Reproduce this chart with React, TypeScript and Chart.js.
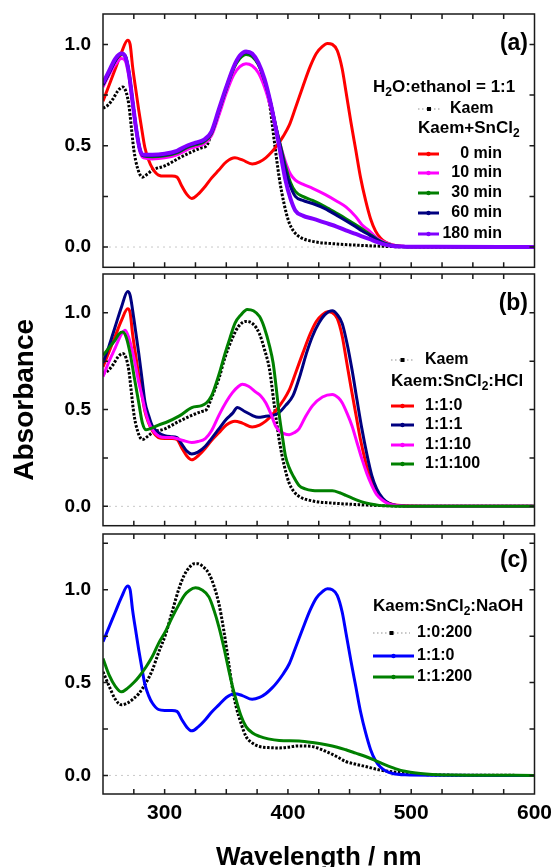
import React, { useEffect, useRef } from 'react';
import { Chart, registerables } from 'chart.js';
Chart.register(...registerables);

type P = [number, number];
const FONT = '"Liberation Sans", Arial, Helvetica, sans-serif';

// ---------- data: [wavelength nm, absorbance] ----------
const kaem: P[] = [
  [250, 0.685], [254, 0.70], [258, 0.73], [262, 0.77], [266, 0.79], [269, 0.76], [271, 0.70], [273, 0.59],
  [275, 0.48], [278, 0.39], [282, 0.345], [286, 0.36], [290, 0.38], [300, 0.40], [312, 0.44], [322, 0.47],
  [330, 0.49], [334, 0.50], [338, 0.56], [344, 0.66], [349, 0.77], [355, 0.87], [360, 0.93], [366, 0.955],
  [372, 0.94], [377, 0.89], [381, 0.81], [385, 0.71], [389, 0.52], [393, 0.34], [397, 0.21], [401, 0.12],
  [405, 0.075], [410, 0.048], [420, 0.028], [440, 0.015], [460, 0.008], [480, 0.003], [500, 0.001], [600, 0],
];
// Kaem+SnCl2 0 min  (= 1:1:0)
const sn0: P[] = [
  [250, 0.72], [255, 0.80], [260, 0.88], [265, 0.96], [270, 1.02], [272, 1.0], [274, 0.89], [277, 0.76],
  [279, 0.675], [282, 0.56], [284, 0.49], [287, 0.43], [290, 0.39], [295, 0.355], [300, 0.35], [306, 0.35],
  [310, 0.345], [314, 0.30], [318, 0.26], [322, 0.24], [327, 0.26], [333, 0.30], [338, 0.34], [344, 0.38],
  [350, 0.42], [357, 0.44], [363, 0.43], [371, 0.41], [377, 0.42], [382, 0.44], [387, 0.47], [391, 0.50],
  [396, 0.545], [401, 0.60], [406, 0.685], [412, 0.79], [418, 0.89], [423, 0.955], [428, 0.99], [432, 1.005],
  [436, 1.0], [440, 0.97], [444, 0.88], [447, 0.77], [451, 0.62], [455, 0.48], [459, 0.34], [463, 0.23],
  [467, 0.14], [471, 0.08], [475, 0.045], [479, 0.025], [485, 0.01], [495, 0.003], [520, 0.001], [600, 0],
];
const sn10: P[] = [
  [250, 0.79], [255, 0.85], [260, 0.90], [265, 0.93], [268, 0.92], [271, 0.84], [274, 0.70], [277, 0.57],
  [280, 0.47], [283, 0.44], [290, 0.435], [300, 0.44], [310, 0.455], [318, 0.48], [325, 0.495], [332, 0.51],
  [338, 0.55], [344, 0.65], [350, 0.76], [356, 0.85], [361, 0.89], [366, 0.905], [371, 0.895], [376, 0.86],
  [381, 0.79], [386, 0.69], [390, 0.59], [394, 0.50], [398, 0.42], [402, 0.36], [406, 0.33], [412, 0.31],
  [420, 0.29], [430, 0.26], [440, 0.225], [447, 0.198], [455, 0.15], [460, 0.11], [466, 0.08], [472, 0.045],
  [478, 0.025], [485, 0.01], [495, 0.003], [520, 0.001], [600, 0],
];
const sn30: P[] = [
  [250, 0.80], [255, 0.86], [260, 0.92], [265, 0.95], [268, 0.94], [271, 0.86], [274, 0.72], [277, 0.58],
  [280, 0.48], [283, 0.45], [290, 0.445], [300, 0.45], [310, 0.465], [318, 0.49], [325, 0.505], [332, 0.52],
  [338, 0.56], [344, 0.67], [350, 0.78], [356, 0.88], [361, 0.93], [366, 0.95], [371, 0.94], [376, 0.90],
  [381, 0.82], [386, 0.71], [390, 0.60], [394, 0.50], [398, 0.40], [402, 0.32], [406, 0.275], [412, 0.25],
  [420, 0.23], [430, 0.20], [440, 0.165], [447, 0.14], [455, 0.11], [460, 0.09], [466, 0.065], [472, 0.04],
  [478, 0.02], [485, 0.008], [495, 0.002], [520, 0.001], [600, 0],
];
const sn60: P[] = [
  [250, 0.80], [255, 0.86], [260, 0.92], [265, 0.955], [268, 0.945], [271, 0.865], [274, 0.72], [277, 0.58],
  [280, 0.48], [283, 0.45], [290, 0.45], [300, 0.455], [310, 0.47], [318, 0.495], [325, 0.51], [332, 0.525],
  [338, 0.565], [344, 0.675], [350, 0.785], [356, 0.885], [361, 0.94], [366, 0.96], [371, 0.95], [376, 0.905],
  [381, 0.825], [386, 0.71], [390, 0.60], [394, 0.49], [398, 0.38], [402, 0.30], [406, 0.25], [412, 0.23],
  [420, 0.215], [430, 0.19], [440, 0.155], [447, 0.13], [455, 0.10], [460, 0.08], [466, 0.06], [472, 0.037],
  [478, 0.018], [485, 0.007], [495, 0.002], [520, 0.001], [600, 0],
];
const sn180: P[] = [
  [250, 0.81], [255, 0.87], [260, 0.93], [265, 0.955], [268, 0.94], [271, 0.86], [274, 0.72], [277, 0.58],
  [280, 0.48], [283, 0.455], [290, 0.455], [300, 0.46], [310, 0.475], [318, 0.50], [325, 0.515], [332, 0.53],
  [338, 0.57], [344, 0.68], [350, 0.79], [356, 0.89], [361, 0.945], [366, 0.965], [371, 0.955], [376, 0.91],
  [381, 0.83], [386, 0.71], [390, 0.59], [394, 0.46], [398, 0.33], [402, 0.24], [406, 0.18], [412, 0.155],
  [420, 0.14], [430, 0.12], [440, 0.10], [447, 0.082], [455, 0.065], [460, 0.053], [466, 0.04], [472, 0.025],
  [478, 0.013], [485, 0.005], [495, 0.002], [520, 0.001], [600, 0],
];
// Kaem:SnCl2:HCl
const hcl1: P[] = [
  [250, 0.74], [255, 0.83], [260, 0.93], [265, 1.03], [270, 1.11], [272, 1.09], [275, 0.97], [279, 0.79],
  [282, 0.64], [284, 0.54], [287, 0.47], [290, 0.415], [295, 0.38], [300, 0.365], [305, 0.36], [310, 0.355],
  [314, 0.32], [318, 0.285], [322, 0.27], [327, 0.28], [333, 0.31], [338, 0.35], [344, 0.40], [350, 0.45],
  [355, 0.48], [359, 0.51], [365, 0.49], [371, 0.47], [376, 0.46], [382, 0.465], [388, 0.47], [393, 0.485],
  [398, 0.52], [404, 0.57], [410, 0.68], [415, 0.79], [420, 0.88], [425, 0.945], [430, 0.99], [436, 1.01],
  [440, 0.99], [444, 0.945], [448, 0.84], [452, 0.705], [456, 0.55], [460, 0.40], [464, 0.27], [468, 0.16],
  [472, 0.09], [477, 0.04], [482, 0.015], [488, 0.005], [500, 0.001], [600, 0],
];
const hcl10: P[] = [
  [250, 0.67], [255, 0.75], [260, 0.82], [265, 0.89], [268, 0.91], [271, 0.87], [275, 0.77], [279, 0.64],
  [282, 0.56], [284, 0.50], [288, 0.42], [292, 0.38], [296, 0.36], [301, 0.355], [306, 0.355], [310, 0.35],
  [315, 0.34], [322, 0.33], [327, 0.335], [333, 0.35], [338, 0.39], [344, 0.47], [350, 0.54], [355, 0.587],
  [360, 0.62], [363, 0.63], [368, 0.62], [374, 0.59], [378, 0.57], [382, 0.535], [386, 0.48], [390, 0.415],
  [393, 0.39], [397, 0.375], [401, 0.37], [405, 0.38], [409, 0.40], [414, 0.46], [420, 0.52], [428, 0.565],
  [436, 0.578], [441, 0.56], [444, 0.535], [448, 0.48], [452, 0.415], [456, 0.33], [460, 0.245], [464, 0.17],
  [468, 0.108], [472, 0.06], [477, 0.03], [482, 0.012], [488, 0.005], [500, 0.001], [600, 0],
];
const hcl100: P[] = [
  [250, 0.78], [255, 0.82], [260, 0.86], [263, 0.89], [266, 0.90], [269, 0.87], [272, 0.79], [275, 0.68],
  [279, 0.535], [282, 0.43], [285, 0.395], [290, 0.405], [295, 0.42], [301, 0.433], [312, 0.467], [322, 0.51],
  [330, 0.52], [334, 0.535], [338, 0.57], [344, 0.68], [349, 0.79], [353, 0.87], [357, 0.945], [362, 0.99],
  [367, 1.017], [372, 1.01], [377, 0.98], [381, 0.92], [385, 0.83], [388, 0.74], [390, 0.64], [393, 0.47],
  [396, 0.34], [398, 0.26], [401, 0.20], [404, 0.16], [409, 0.108], [414, 0.09], [420, 0.082], [430, 0.08],
  [436, 0.08], [442, 0.07], [447, 0.056], [453, 0.04], [460, 0.023], [467, 0.012], [474, 0.005], [490, 0.001], [600, 0],
];
// Kaem:SnCl2:NaOH
const naoh0: P[] = [
  [250, 0.558], [255, 0.48], [260, 0.41], [265, 0.38], [270, 0.39], [275, 0.415], [279, 0.44], [285, 0.50],
  [290, 0.567], [295, 0.66], [301, 0.764], [306, 0.88], [312, 1.014], [316, 1.08], [320, 1.12], [324, 1.14],
  [327, 1.14], [331, 1.125], [336, 1.086], [340, 1.02], [344, 0.925], [348, 0.78], [352, 0.603], [355, 0.47],
  [358, 0.37], [362, 0.28], [366, 0.21], [371, 0.175], [377, 0.156], [384, 0.15], [393, 0.148], [400, 0.152],
  [409, 0.159], [420, 0.155], [431, 0.129], [440, 0.10], [447, 0.075], [455, 0.06], [463, 0.048], [474, 0.03],
  [490, 0.016], [506, 0.006], [528, 0.002], [550, 0.001], [600, 0],
];
const naoh200: P[] = [
  [250, 0.63], [255, 0.54], [260, 0.48], [265, 0.45], [270, 0.47], [275, 0.50], [279, 0.53], [285, 0.585],
  [290, 0.64], [295, 0.71], [301, 0.78], [306, 0.85], [312, 0.925], [316, 0.97], [320, 0.996], [325, 1.01],
  [330, 1.0], [336, 0.96], [340, 0.89], [344, 0.80], [348, 0.69], [352, 0.567], [355, 0.48], [358, 0.406],
  [362, 0.32], [366, 0.263], [371, 0.23], [377, 0.21], [384, 0.197], [393, 0.188], [409, 0.185], [420, 0.177],
  [431, 0.165], [440, 0.152], [447, 0.138], [455, 0.12], [463, 0.102], [471, 0.08], [479, 0.057], [487, 0.037],
  [496, 0.021], [504, 0.013], [512, 0.008], [522, 0.004], [533, 0.002], [560, 0.001], [600, 0],
];

// ---------- ticks / labels ----------
const xTicks = [250, 275, 300, 325, 350, 375, 400, 425, 450, 475, 500, 525, 550, 575, 600];
const xLabels = [300, 400, 500, 600];
const yTicksA = [0, 0.25, 0.5, 0.75, 1.0];
const yTicksC = [0, 0.25, 0.5, 0.75, 1.0, 1.25];
const yLabels = [0, 0.5, 1.0];

const legendA = ['Kaem', '0 min', '10 min', '30 min', '60 min', '180 min'];
const legendB = ['Kaem', '1:1:0', '1:1:1', '1:1:10', '1:1:100'];
const legendC = ['1:0:200', '1:1:0', '1:1:200'];
const headersA = ['H_2O:ethanol = 1:1', 'Kaem+SnCl_2'];
const headersB = ['Kaem:SnCl_2:HCl'];
const headersC = ['Kaem:SnCl_2:NaOH'];
const tags = ['(a)', '(b)', '(c)'];
const xTitle = 'Wavelength / nm';
const yTitle = 'Absorbance';

const RED = '#ff0000', MAG = '#ff00ff', GRN = '#008000', NAVY = '#000080', PURP = '#8000ff', BLUE = '#0000ff', BLK = '#000000';

function drawRich(ctx: CanvasRenderingContext2D, text: string, x: number, y: number, size: number, align: string) {
  const parts = text.split(/_(\d)/);
  const main = `bold ${size}px ${FONT}`;
  const sub = `bold ${Math.round(size * 0.68)}px ${FONT}`;
  let w = 0;
  parts.forEach((p, i) => { ctx.font = i % 2 ? sub : main; w += ctx.measureText(p).width; });
  let cx = align === 'right' ? x - w : x;
  ctx.textAlign = 'left';
  ctx.textBaseline = 'middle';
  ctx.fillStyle = '#000';
  parts.forEach((p, i) => {
    ctx.font = i % 2 ? sub : main;
    ctx.fillText(p, cx, i % 2 ? y + size * 0.32 : y);
    cx += ctx.measureText(p).width;
  });
}

const decoPlugin = {
  id: 'deco',
  beforeDatasetsDraw(chart: any) {
    const { ctx, chartArea: a, scales } = chart;
    const y0 = scales.y.getPixelForValue(0);
    ctx.save();
    ctx.strokeStyle = '#c8c8c8';
    ctx.lineWidth = 1;
    ctx.setLineDash([2, 4]);
    ctx.beginPath(); ctx.moveTo(a.left, y0); ctx.lineTo(a.right, y0); ctx.stroke();
    ctx.restore();
  },
  afterDatasetsDraw(chart: any, _args: any, opts: any) {
    const { ctx, chartArea: a, scales } = chart;
    ctx.save();
    ctx.strokeStyle = '#1a1a1a';
    ctx.lineWidth = 1.5;
    ctx.setLineDash([]);
    ctx.strokeRect(a.left, a.top, a.right - a.left, a.bottom - a.top);
    const TL = 5;
    ctx.beginPath();
    for (const t of scales.x.ticks) {
      const px = scales.x.getPixelForValue(t.value);
      if (px <= a.left + 1 || px >= a.right - 1) continue;
      ctx.moveTo(px, a.bottom); ctx.lineTo(px, a.bottom - TL);
      ctx.moveTo(px, a.top); ctx.lineTo(px, a.top + TL);
    }
    for (const t of scales.y.ticks) {
      const py = scales.y.getPixelForValue(t.value);
      if (py <= a.top + 1 || py >= a.bottom - 1) continue;
      ctx.moveTo(a.left, py); ctx.lineTo(a.left + TL, py);
      ctx.moveTo(a.right, py); ctx.lineTo(a.right - TL, py);
    }
    ctx.stroke();

    // panel tag
    ctx.fillStyle = '#000';
    ctx.font = `bold 23px ${FONT}`;
    ctx.textAlign = 'right';
    ctx.textBaseline = 'middle';
    ctx.fillText(opts.tag, opts.tagX, opts.tagY);

    // headers
    for (const h of opts.headers) drawRich(ctx, h.text, h.x, h.y, h.size, 'left');

    // legend items
    for (const it of opts.items) {
      const ds = chart.data.datasets[it.ds];
      const mid = (it.x0 + it.x1) / 2;
      if (ds.borderDash && ds.borderDash.length) {
        ctx.strokeStyle = '#c8c8c8';
        ctx.lineWidth = 2;
        ctx.setLineDash([1.5, 2.5]);
        ctx.beginPath(); ctx.moveTo(it.x0, it.y); ctx.lineTo(it.x1, it.y); ctx.stroke();
        ctx.setLineDash([]);
        ctx.fillStyle = '#000';
        ctx.fillRect(mid - 2, it.y - 2, 4, 4);
      } else {
        ctx.strokeStyle = ds.borderColor;
        ctx.lineWidth = 3;
        ctx.setLineDash([]);
        ctx.beginPath(); ctx.moveTo(it.x0, it.y); ctx.lineTo(it.x1, it.y); ctx.stroke();
        ctx.fillStyle = ds.borderColor;
        ctx.beginPath(); ctx.arc(mid, it.y, 2.2, 0, Math.PI * 2); ctx.fill();
      }
      drawRich(ctx, ds.label, it.tx, it.y, 16, it.align);
    }
    ctx.restore();
  },
};

function mkDs(label: string, pts: P[], color: string, width: number, dotted: boolean, order: number) {
  return {
    label,
    data: pts.map(([x, y]) => ({ x, y })),
    borderColor: color,
    backgroundColor: color,
    borderWidth: width,
    borderDash: dotted ? [2.5, 1.6] : [],
    borderCapStyle: 'butt',
    pointRadius: 0,
    fill: false,
    tension: 0.4,
    cubicInterpolationMode: 'monotone',
    order,
  };
}

function zeroPad(s: any) {
  s.paddingTop = 0; s.paddingBottom = 0; s.paddingLeft = 0; s.paddingRight = 0;
}

function buildConfig(p: any) {
  return {
    type: 'line',
    data: { datasets: p.datasets },
    plugins: [decoPlugin],
    options: {
      animation: false,
      responsive: false,
      events: [],
      layout: { padding: { left: 0, right: 22.5, top: p.padTop, bottom: p.padBottom } },
      plugins: {
        legend: { display: false },
        tooltip: { enabled: false },
        deco: p.deco,
      },
      scales: {
        x: {
          type: 'linear',
          min: 250,
          max: 600,
          afterBuildTicks: (s: any) => { s.ticks = xTicks.map((v) => ({ value: v })); },
          afterFit: (s: any) => { s.height = p.xHeight; zeroPad(s); },
          grid: { display: false, drawTicks: false },
          border: { display: false },
          ticks: {
            display: p.showX,
            autoSkip: false,
            maxRotation: 0,
            padding: 7,
            color: '#000',
            font: { family: FONT, size: 21, weight: 'bold' },
            callback: (v: number) => (xLabels.includes(v) ? String(v) : ''),
          },
          title: {
            display: p.showX,
            text: xTitle,
            color: '#000',
            font: { family: FONT, size: 26, weight: 'bold', lineHeight: 1 },
            padding: { top: 0, bottom: -4 },
          },
        },
        y: {
          type: 'linear',
          min: -0.1,
          max: p.yMax,
          afterBuildTicks: (s: any) => { s.ticks = p.yTicks.map((v: number) => ({ value: v })); },
          afterFit: (s: any) => { s.width = 103; zeroPad(s); },
          grid: { display: false, drawTicks: false },
          border: { display: false },
          ticks: {
            autoSkip: false,
            padding: 12,
            color: '#000',
            font: { family: FONT, size: 19, weight: 'bold' },
            callback: (v: number) => (yLabels.some((l) => Math.abs(l - v) < 1e-9) ? v.toFixed(1) : ''),
          },
          title: {
            display: p.showYTitle,
            text: yTitle,
            color: '#000',
            font: { family: FONT, size: 28, weight: 'bold' },
            padding: { top: 8, bottom: 0 },
          },
        },
      },
    },
  };
}

const Panel: React.FC<{ top: number; height: number; cfg: any }> = ({ top, height, cfg }) => {
  const ref = useRef<HTMLCanvasElement>(null);
  useEffect(() => {
    if (!ref.current) return;
    const chart = new Chart(ref.current, cfg as any);
    return () => chart.destroy();
  }, [cfg]);
  return (
    <canvas
      ref={ref}
      width={557}
      height={height}
      style={{ position: 'absolute', left: 0, top, width: 557, height }}
    />
  );
};

const cfgA = buildConfig({
  padTop: 14, padBottom: 3.7, xHeight: 0, showX: false, showYTitle: false, yMax: 1.15, yTicks: yTicksA,
  datasets: [
    mkDs(legendA[0], kaem, BLK, 3, true, 6),
    mkDs(legendA[1], sn0, RED, 3, false, 5),
    mkDs(legendA[2], sn10, MAG, 3, false, 4),
    mkDs(legendA[3], sn30, GRN, 3, false, 3),
    mkDs(legendA[4], sn60, NAVY, 3, false, 2),
    mkDs(legendA[5], sn180, PURP, 4, false, 1),
  ],
  deco: {
    tag: tags[0], tagX: 528, tagY: 44,
    headers: [
      { text: headersA[0], x: 373, y: 87, size: 17 },
      { text: headersA[1], x: 418, y: 128, size: 17 },
    ],
    items: [
      { ds: 0, y: 109, x0: 418, x1: 440, tx: 450, align: 'left' },
      { ds: 1, y: 154, x0: 418, x1: 439, tx: 502, align: 'right' },
      { ds: 2, y: 173, x0: 418, x1: 439, tx: 502, align: 'right' },
      { ds: 3, y: 193, x0: 418, x1: 439, tx: 502, align: 'right' },
      { ds: 4, y: 213, x0: 418, x1: 439, tx: 502, align: 'right' },
      { ds: 5, y: 234, x0: 418, x1: 439, tx: 502, align: 'right' },
    ],
  },
});

const cfgB = buildConfig({
  padTop: 3, padBottom: 4.3, xHeight: 0, showX: false, showYTitle: true, yMax: 1.2, yTicks: yTicksA,
  datasets: [
    mkDs(legendB[0], kaem, BLK, 3, true, 5),
    mkDs(legendB[1], sn0, RED, 3, false, 4),
    mkDs(legendB[2], hcl1, NAVY, 3, false, 3),
    mkDs(legendB[3], hcl10, MAG, 3, false, 2),
    mkDs(legendB[4], hcl100, GRN, 3, false, 1),
  ],
  deco: {
    tag: tags[1], tagX: 528, tagY: 33,
    headers: [{ text: headersB[0], x: 391, y: 110, size: 17 }],
    items: [
      { ds: 0, y: 89, x0: 391, x1: 414, tx: 425, align: 'left' },
      { ds: 1, y: 135, x0: 391, x1: 414, tx: 425, align: 'left' },
      { ds: 2, y: 154, x0: 391, x1: 414, tx: 425, align: 'left' },
      { ds: 3, y: 174, x0: 391, x1: 414, tx: 425, align: 'left' },
      { ds: 4, y: 193, x0: 391, x1: 414, tx: 425, align: 'left' },
    ],
  },
});

const cfgC = buildConfig({
  padTop: 4, padBottom: 0, xHeight: 73, showX: true, showYTitle: false, yMax: 1.3, yTicks: yTicksC,
  datasets: [
    mkDs(legendC[0], naoh0, BLK, 3, true, 3),
    mkDs(legendC[1], sn0, BLUE, 3, false, 2),
    mkDs(legendC[2], naoh200, GRN, 3, false, 1),
  ],
  deco: {
    tag: tags[2], tagX: 528, tagY: 31,
    headers: [{ text: headersC[0], x: 373, y: 76, size: 17 }],
    items: [
      { ds: 0, y: 103, x0: 373, x1: 410, tx: 417, align: 'left' },
      { ds: 1, y: 126, x0: 373, x1: 414, tx: 417, align: 'left' },
      { ds: 2, y: 147, x0: 373, x1: 414, tx: 417, align: 'left' },
    ],
  },
});

export default function App() {
  return (
    <div style={{ position: 'fixed', left: 0, top: 0, width: 557, height: 867, overflow: 'hidden', background: '#fff' }}>
      <Panel top={0} height={271} cfg={cfgA} />
      <Panel top={271} height={259} cfg={cfgB} />
      <Panel top={530} height={337} cfg={cfgC} />
    </div>
  );
}
